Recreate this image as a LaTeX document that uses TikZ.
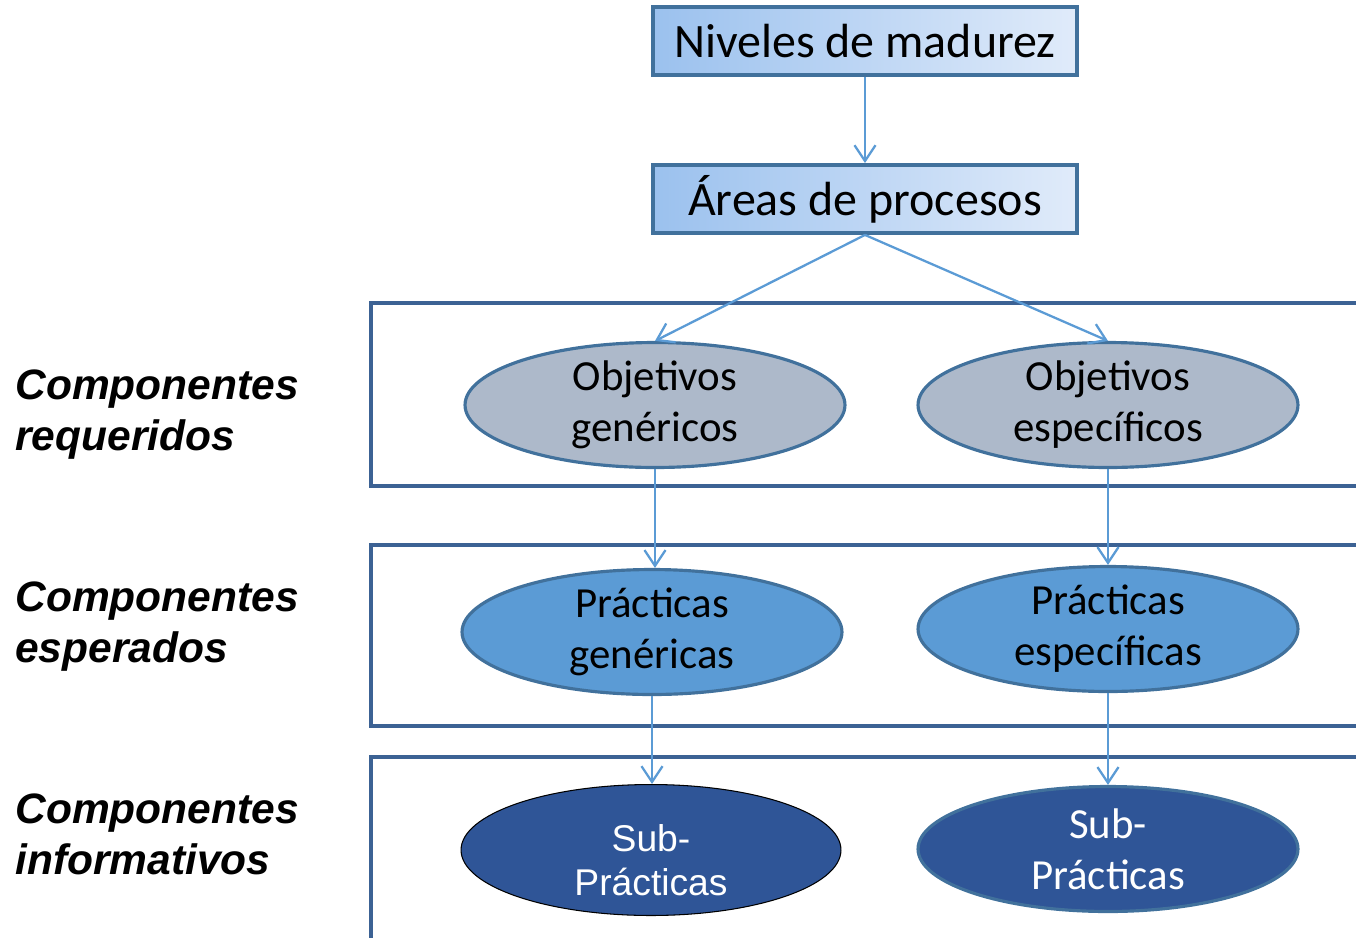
\documentclass[tikz,border=0pt]{standalone}
\usepackage{fontspec}
\setmainfont{Carlito}
\newfontfamily\arialfont{Liberation Sans}
\usetikzlibrary{shapes.geometric,arrows.meta}
\definecolor{bandline}{RGB}{60,98,148}
\definecolor{nodeline}{RGB}{65,113,156}
\definecolor{arrowblue}{RGB}{91,155,213}
\definecolor{objgray}{RGB}{173,185,202}
\definecolor{pracblue}{RGB}{91,155,213}
\definecolor{subblue}{RGB}{47,85,151}
\definecolor{boxleft}{RGB}{155,193,238}
\definecolor{boxright}{RGB}{224,235,250}
\begin{document}
\begin{tikzpicture}[x=0.02cm,y=-0.02cm,
  levelbox/.style={draw=nodeline,line width=2.2pt,left color=boxleft,right color=boxright,
    minimum width=8.48cm,minimum height=1.36cm,inner sep=0pt,font=\fontsize{27.3}{32}\selectfont},
  comp/.style={ellipse,draw=nodeline,line width=1.8pt,minimum width=7.6cm,minimum height=2.5cm,
    inner sep=0pt,align=center,font=\fontsize{24.4}{29}\selectfont},
  flow/.style={arrowblue,line width=1.3pt,-{Straight Barb[length=9pt,width=12pt]}},
  band/.style={draw=bandline,line width=2.2pt},
  sidelabel/.style={anchor=west,align=left,inner sep=0pt,
    font=\arialfont\bfseries\itshape\fontsize{24.2}{29}\selectfont}]
  % helper grid: comment for final drawing
  % \draw[help lines,step=50] (0,0) grid (1356,937);
  \useasboundingbox (0,0) rectangle (1356,937);
  % bands
  \draw[band] (371,303) rectangle (1400,486);
  \draw[band] (371,545) rectangle (1400,726);
  \draw[band] (371,757) rectangle (1400,980);
  \node[sidelabel] (lreq) at (15,415) {Componentes\\requeridos};
  \node[sidelabel] (lesp) at (15,627) {Componentes\\esperados};
  \node[sidelabel] (linf) at (15,834) {Componentes\\informativos};
  % top boxes
  \node[levelbox] (nivel) at (865,41) {Niveles de madurez};
  \node[levelbox] (areas) at (865,199) {Áreas de procesos};
  % ellipses
  \node[comp,fill=objgray] (objgen) at (655,405) {Objetivos\\genéricos};
  \node[comp,fill=objgray] (objesp) at (1108,405) {Objetivos\\específicos};
  \node[comp,fill=pracblue] (pracgen) at (652,632) {Prácticas\\genéricas};
  \node[comp,fill=pracblue] (pracesp) at (1108,629) {Prácticas\\específicas};
  \node[comp,fill=subblue,draw=black,line width=0.6pt,text=white,
    font=\arialfont\fontsize{21.2}{25.5}\selectfont] (subgen) at (651,850) {\rule{0pt}{27pt}Sub-\\Prácticas};
  \node[comp,fill=subblue,text=white] (subesp) at (1108,849) {Sub-\\Prácticas};
  % connectors
  \draw[flow] (nivel) -- (areas);
  \draw[flow] (areas.south) -- (objgen.north);
  \draw[flow] (areas.south) -- (objesp.north);
  \draw[flow] (objgen.south) -- (objgen.south |- pracgen.north);
  \draw[flow] (objesp.south) -- (pracesp.north);
  \draw[flow] (pracgen.south) -- (pracgen.south |- subgen.north);
  \draw[flow] (pracesp.south) -- (subesp.north);
\end{tikzpicture}
\end{document}
